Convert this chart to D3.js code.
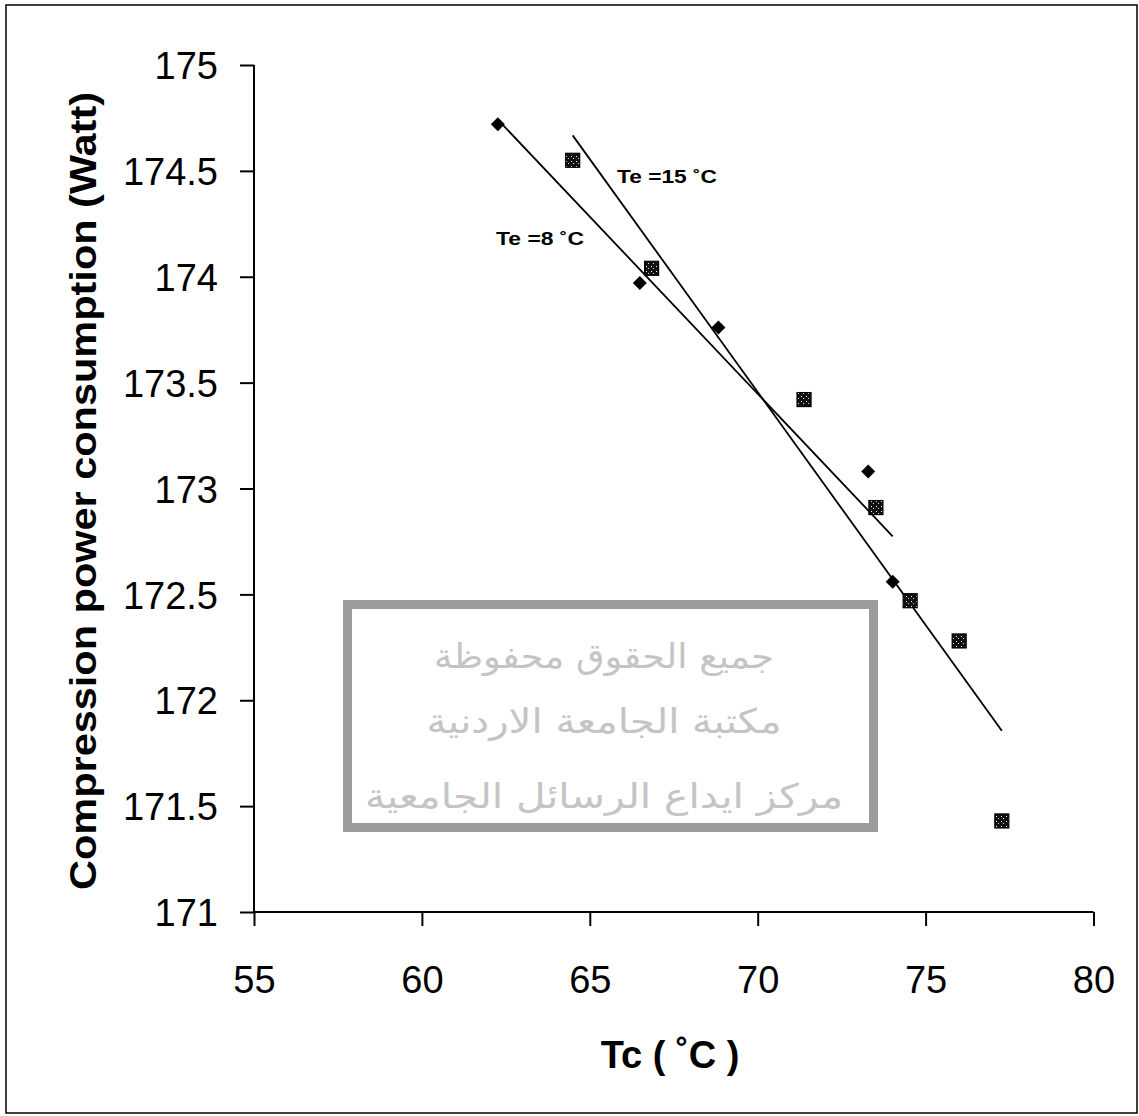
<!DOCTYPE html>
<html>
<head>
<meta charset="utf-8">
<script src="https://cdn.jsdelivr.net/npm/d3@7"></script>
<style>
  html, body { margin: 0; padding: 0; background: #fff; }
  svg { display: block; }
</style>
</head>
<body>
<svg id="chart" width="1139" height="1116"></svg>
<script>
// ---- data ----
const te8Tc    = [62.26, 66.49, 68.83, 73.29, 74.02];
const te8Power = [174.72, 173.97, 173.76, 173.08, 172.56];
const te15Tc    = [64.49, 66.84, 71.38, 73.52, 74.54, 76.00, 77.27];
const te15Power = [174.55, 174.04, 173.42, 172.91, 172.47, 172.28, 171.43];
const xTicks = [55, 60, 65, 70, 75, 80];
const yTicks = [171, 171.5, 172, 172.5, 173, 173.5, 174, 174.5, 175];
const seriesLabels = ["Te =8 \u02DAC", "Te =15 \u02DAC"];
const xTitle = "Tc ( \u02DAC )";
const yTitle = "Compression power consumption (Watt)";
const watermarkLines = ["جميع الحقوق محفوظة", "مكتبة الجامعة الاردنية", "مركز ايداع الرسائل الجامعية"];

// ---- layout ----
const svg = d3.select("#chart");
const x = d3.scaleLinear().domain([55, 80]).range([254, 1093.5]);
const y = d3.scaleLinear().domain([171, 175]).range([912, 65]);

// outer border
svg.append("rect").attr("x", 6).attr("y", 5).attr("width", 1131).attr("height", 1108)
  .attr("fill", "#fff").attr("stroke", "#000").attr("stroke-width", 1.5);

// pattern for square markers
const defs = svg.append("defs");
const pat = defs.append("pattern").attr("id", "speck").attr("patternUnits", "userSpaceOnUse")
  .attr("width", 5).attr("height", 5);
pat.append("rect").attr("width", 5).attr("height", 5).attr("fill", "#111");
pat.append("rect").attr("x", 1).attr("y", 1).attr("width", 1).attr("height", 1).attr("fill", "#fff");
pat.append("rect").attr("x", 3).attr("y", 3).attr("width", 1).attr("height", 1).attr("fill", "#ddd");

// axes
const fontTick = "Liberation Sans, Arial, sans-serif";
const xAxis = d3.axisBottom(x).tickValues(xTicks).tickSize(14).tickFormat(d3.format("d"));
const yAxis = d3.axisLeft(y).tickValues(yTicks).tickSize(14).tickFormat(d => d3.format("")(d));

const gx = svg.append("g").attr("transform", `translate(0,${y(171)})`).call(xAxis);
const gy = svg.append("g").attr("transform", `translate(${x(55)},0)`).call(yAxis);
[gx, gy].forEach(g => {
  g.select(".domain").attr("stroke", "#000").attr("stroke-width", 2).attr("d", null);
  g.selectAll(".tick line").attr("stroke", "#000").attr("stroke-width", 2);
  g.selectAll(".tick text").attr("fill", "#000").style("font-family", fontTick).style("font-size", "38px");
});
// axis lines without end caps
gx.select(".domain").attr("d", `M${x(55)},0H${x(80)}`);
gy.select(".domain").attr("d", `M0,${y(171)}V${y(175)}`);
gx.selectAll(".tick text").attr("y", 0).attr("dy", 0).attr("transform", "translate(0,81)");
gy.selectAll(".tick text").attr("x", -36).attr("dy", "0.36em");

// axis titles
svg.append("text").attr("x", 670).attr("y", 1068).attr("text-anchor", "middle")
  .style("font-family", fontTick).style("font-size", "38px").style("font-weight", "bold")
  .text(xTitle);
svg.append("text").attr("transform", `translate(96,${(92 + 890) / 2}) rotate(-90)`)
  .attr("text-anchor", "middle")
  .attr("textLength", 798).attr("lengthAdjust", "spacingAndGlyphs")
  .style("font-family", fontTick).style("font-size", "37px").style("font-weight", "bold")
  .text(yTitle);

// watermark
const wm = svg.append("g");
wm.append("rect").attr("x", 347.5).attr("y", 604.5).attr("width", 526).attr("height", 223)
  .attr("fill", "#fff").attr("stroke", "#9c9c9c").attr("stroke-width", 9);
const wmY = [668, 733, 808];
const wmW = [340, 355, 478];
watermarkLines.forEach((t, i) => {
  wm.append("text").attr("x", 604).attr("y", wmY[i]).attr("text-anchor", "middle")
    .attr("direction", "rtl")
    .attr("textLength", wmW[i]).attr("lengthAdjust", "spacingAndGlyphs")
    .style("font-family", "DejaVu Sans, Noto Sans, sans-serif").style("font-size", "34px")
    .attr("fill", "#c4c4c4").text(t);
});

// regression lines (Excel-style linear trendlines over data range)
function fit(xs, ys) {
  const mx = d3.mean(xs), my = d3.mean(ys);
  const sxy = d3.sum(xs, (v, i) => (v - mx) * (ys[i] - my));
  const sxx = d3.sum(xs, v => (v - mx) * (v - mx));
  const b = sxy / sxx, a = my - b * mx;
  const [x0, x1] = d3.extent(xs);
  return [[x0, a + b * x0], [x1, a + b * x1]];
}
const line = d3.line().x(d => x(d[0])).y(d => y(d[1]));
[[te8Tc, te8Power], [te15Tc, te15Power]].forEach(([xs, ys]) => {
  svg.append("path").attr("d", line(fit(xs, ys)))
    .attr("fill", "none").attr("stroke", "#000").attr("stroke-width", 1.8);
});

// markers
const te8 = te8Tc.map((v, i) => [v, te8Power[i]]);
const te15 = te15Tc.map((v, i) => [v, te15Power[i]]);
svg.append("g").selectAll("path").data(te8).join("path")
  .attr("transform", d => `translate(${x(d[0])},${y(d[1])})`)
  .attr("d", "M0,-7L7,0L0,7L-7,0Z").attr("fill", "#000");
svg.append("g").selectAll("rect").data(te15).join("rect")
  .attr("x", d => x(d[0]) - 7).attr("y", d => y(d[1]) - 7)
  .attr("width", 14).attr("height", 14)
  .attr("fill", "url(#speck)").attr("stroke", "#000").attr("stroke-width", 1.2);

// series labels
const labFont = "Liberation Sans, Arial, sans-serif";
svg.append("text").attr("x", 496).attr("y", 245).attr("textLength", 88).attr("lengthAdjust", "spacingAndGlyphs")
  .style("font-family", labFont).style("font-size", "19px").style("font-weight", "bold").text(seriesLabels[0]);
svg.append("text").attr("x", 617).attr("y", 183).attr("textLength", 100).attr("lengthAdjust", "spacingAndGlyphs")
  .style("font-family", labFont).style("font-size", "19px").style("font-weight", "bold").text(seriesLabels[1]);
</script>
</body>
</html>
